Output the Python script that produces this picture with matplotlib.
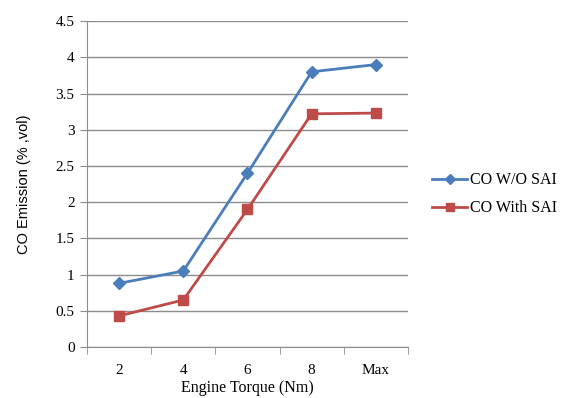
import matplotlib
matplotlib.use("Agg")
import matplotlib.pyplot as plt
import numpy as np

categories = ["2", "4", "6", "8", "Max"]
co_without_sai = [0.88, 1.05, 2.40, 3.80, 3.90]
co_with_sai = [0.43, 0.65, 1.90, 3.22, 3.23]
y_ticks = [0, 0.5, 1, 1.5, 2, 2.5, 3, 3.5, 4, 4.5]
y_tick_labels = ["0", "0.5", "1", "1.5", "2", "2.5", "3", "3.5", "4", "4.5"]

serif = ["Liberation Serif", "DejaVu Serif"]
grid_col = "#8c8c8c"

fig = plt.figure(figsize=(5.65, 3.98), dpi=100)
ax = fig.add_axes([0.154, 0.128, 0.568, 0.819])

x = np.arange(len(categories))
ax.plot(x, co_without_sai, color="#4a7ebb", lw=2, marker="D", ms=6.5,
        label="CO W/O SAI", zorder=3)
ax.plot(x, co_with_sai, color="#be4b48", lw=2, marker="s", ms=7.5,
        label="CO With SAI", zorder=3)

ax.set_xlim(-0.5, len(categories) - 0.5)
ax.set_ylim(0, 4.5)
ax.set_yticks(y_ticks)
ax.set_yticklabels(y_tick_labels, family=serif, fontsize=11)
ax.set_xticks(x)
ax.set_xticklabels(categories, family=serif, fontsize=11)
ax.set_xticks(np.arange(-0.5, len(categories)), minor=True)
ax.tick_params(axis="x", which="major", length=0, pad=12)
ax.tick_params(axis="x", which="minor", length=5, color=grid_col)
ax.tick_params(axis="y", length=5, color=grid_col, pad=4)

ax.grid(axis="y", color=grid_col, lw=1)
ax.set_axisbelow(True)
for s in ["top", "right"]:
    ax.spines[s].set_visible(False)
for s in ["left", "bottom"]:
    ax.spines[s].set_color(grid_col)

ax.set_xlabel("Engine Torque (Nm)", family=serif, fontsize=11.5, labelpad=2)
ax.set_ylabel("CO Emission (% ,vol)", family=["Liberation Sans", "DejaVu Sans"],
              fontsize=10.5, labelpad=18)

leg = ax.legend(loc="center left", bbox_to_anchor=(1.075, 0.469), frameon=False,
                prop={"family": serif, "size": 11.5}, handlelength=2.2,
                handletextpad=0.2, labelspacing=0.75, borderpad=0,
                borderaxespad=0, markerscale=0.8)

fig.savefig("out.png", dpi=100)
